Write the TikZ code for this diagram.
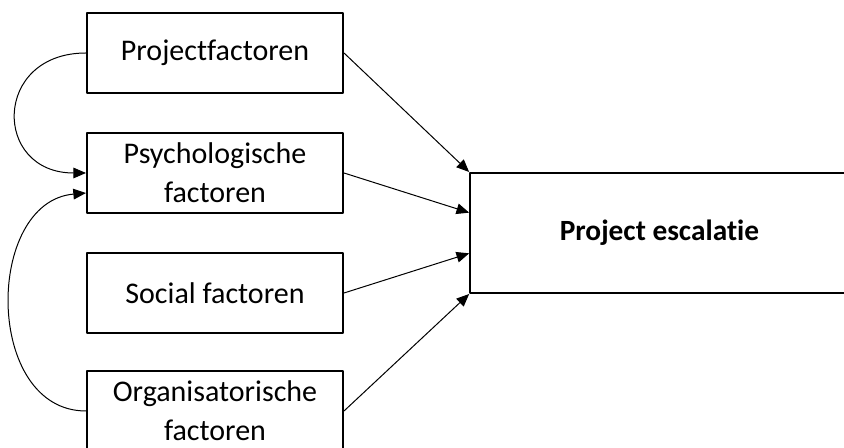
\documentclass[tikz,border=0pt]{standalone}
\usepackage{fontspec}
\setmainfont{Carlito}[Ligatures=NoCommon]
\usetikzlibrary{arrows.meta,calc}
\begin{document}
\begin{tikzpicture}[x=0.75pt,y=-0.75pt,line join=round,>={Triangle[length=9.5pt,width=8pt]},
	factor/.style={draw,line width=1.5pt,minimum width=192pt,minimum height=60pt,align=center,inner sep=0pt,font=\fontsize{22.5}{29.5}\selectfont},
	uitkomst/.style={draw,line width=1.5pt,minimum width=284pt,minimum height=90pt,font=\fontsize{22}{26}\selectfont\bfseries},
	pijl/.style={->,line width=0.75pt}]
	\useasboundingbox (0,0) rectangle (844,448);
	\clip (0,0) rectangle (844,448);
	\node[factor] (proj) at (215,53) {Projectfactoren};
	\node[factor] (psych) at (215,173) {Psychologische\\factoren};
	\node[factor] (soc) at (215,293) {Social factoren};
	\node[factor] (org) at (215,411) {Organisatorische\\factoren};
	\node[uitkomst] (esc) at (659.5,233) {Project escalatie};
	\draw[pijl] (proj.east) -- (esc.north west);
	\draw[pijl] (psych.east) -- ($(esc.north west)!1/3!(esc.south west)$);
	\draw[pijl] (soc.east) -- ($(esc.north west)!2/3!(esc.south west)$);
	\draw[pijl] (org.east) -- (esc.south west);
	\draw[pijl] (proj.west) to[out=180,in=180,looseness=2] (psych.west);
	\draw[pijl] (org.west) to[out=180,in=185,looseness=1.2] ($(psych.west)+(0,20)$);
\end{tikzpicture}
\end{document}
